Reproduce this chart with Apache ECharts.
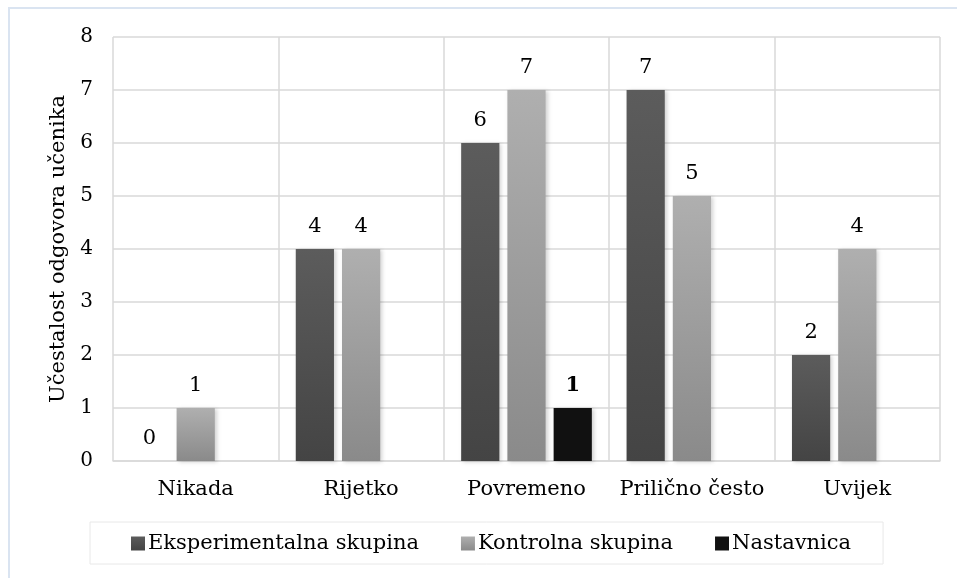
<!DOCTYPE html>
<html>
<head>
<meta charset="utf-8">
<script src="https://cdn.jsdelivr.net/npm/echarts@6/dist/echarts.min.js"></script>
<style>
  html, body { margin: 0; padding: 0; background: #fff; }
  #chart { width: 957px; height: 578px; }
</style>
</head>
<body>
<div id="chart"></div>
<script>
const categories = ['Nikada', 'Rijetko', 'Povremeno', 'Prilično često', 'Uvijek']
const eksperimentalna = [0, 4, 6, 7, 2]
const kontrolna = [1, 4, 7, 5, 4]
const nastavnica = [null, null, 1, null, null]
const yTicks = [0, 1, 2, 3, 4, 5, 6, 7, 8]

const FONT = 'DejaVu Serif'
const FS = 21
const GRID_COLOR = '#d9d9d9'

// vertical gradient, top -> bottom
function grad(top, bottom) {
  return new echarts.graphic.LinearGradient(0, 0, 0, 1, [
    { offset: 0, color: top },
    { offset: 1, color: bottom },
  ])
}

const barShadow = {
  shadowColor: 'rgba(0,0,0,0.18)',
  shadowBlur: 4,
  shadowOffsetX: 2,
  shadowOffsetY: 1,
}

const labelStyle = {
  show: true,
  position: 'top',
  distance: 12,
  fontFamily: FONT,
  fontSize: FS,
  color: '#000',
}

const chart = echarts.init(document.getElementById('chart'))

chart.setOption({
  animation: false,
  textStyle: { fontFamily: FONT },
  graphic: [{
    type: 'rect',
    silent: true,
    shape: { x: 9, y: 8, width: 980, height: 620 },
    style: { fill: 'none', stroke: '#dae4f1', lineWidth: 2 },
  }],
  grid: { left: 113, right: 17, top: 37, bottom: 117 },
  legend: {
    left: 90,
    top: 522,
    padding: [11, 32, 10, 41],
    borderColor: '#e8e8e8',
    borderWidth: 1,
    icon: 'rect',
    itemWidth: 14,
    itemHeight: 14,
    itemGap: 42,
    textStyle: { fontFamily: FONT, fontSize: FS, color: '#000', padding: [0, 0, 0, -2] },
    data: ['Eksperimentalna skupina', 'Kontrolna skupina', 'Nastavnica'],
  },
  xAxis: {
    type: 'category',
    data: categories,
    axisTick: { show: false },
    axisLine: { lineStyle: { color: GRID_COLOR, width: 1.5 } },
    axisLabel: { interval: 0, fontFamily: FONT, fontSize: FS, color: '#000', margin: 18 },
    splitLine: { show: true, interval: 0, lineStyle: { color: GRID_COLOR, width: 1.5 } },
  },
  yAxis: {
    type: 'value',
    min: yTicks[0],
    max: yTicks[yTicks.length - 1],
    interval: 1,
    name: 'Učestalost odgovora učenika',
    nameLocation: 'middle',
    nameGap: 39,
    nameRotate: 90,
    nameTextStyle: { fontFamily: FONT, fontSize: FS, color: '#000' },
    axisLine: { show: false },
    axisTick: { show: false },
    axisLabel: { fontFamily: FONT, fontSize: 20, color: '#000', margin: 20 },
    splitLine: { lineStyle: { color: GRID_COLOR, width: 1.5 } },
  },
  series: [
    {
      name: 'Eksperimentalna skupina',
      type: 'bar',
      data: eksperimentalna,
      barGap: '21%',
      barCategoryGap: '21%',
      itemStyle: { color: grad('#5c5c5c', '#444444'), ...barShadow },
      label: labelStyle,
    },
    {
      name: 'Kontrolna skupina',
      type: 'bar',
      data: kontrolna,
      itemStyle: { color: grad('#afafaf', '#8a8a8a'), ...barShadow },
      label: labelStyle,
    },
    {
      name: 'Nastavnica',
      type: 'bar',
      data: nastavnica,
      itemStyle: { color: '#111111', ...barShadow },
      label: { ...labelStyle, fontWeight: 'bold' },
    },
  ],
})
</script>
</body>
</html>
